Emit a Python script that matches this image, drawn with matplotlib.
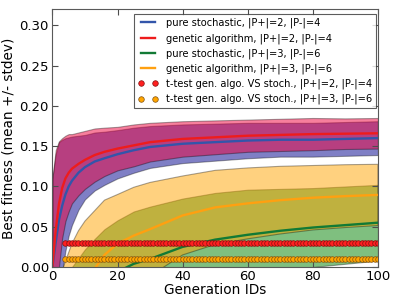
import numpy as np
import matplotlib
matplotlib.use("Agg")
import matplotlib.pyplot as plt

# generation ids at which the curves were sampled
gens = [0, 1, 2, 3, 4, 5, 6, 8, 10, 13, 16, 20, 25, 30, 40, 50, 60, 70, 80, 90, 100]

# pure stochastic, |P+|=2, |P-|=4
stoch24_mean = [0.0, 0.03, 0.058, 0.076, 0.09, 0.1, 0.107, 0.117, 0.124, 0.131, 0.135,
                0.140, 0.145, 0.149, 0.153, 0.155, 0.157, 0.158, 0.158, 0.159, 0.160]
stoch24_std = [0.11, 0.11, 0.097, 0.082, 0.07, 0.061, 0.055, 0.046, 0.040, 0.036, 0.033,
               0.030, 0.028, 0.026, 0.024, 0.023, 0.022, 0.021, 0.021, 0.021, 0.021]

# genetic algorithm, |P+|=2, |P-|=4
gen24_mean = [0.0, 0.045, 0.078, 0.098, 0.11, 0.117, 0.122, 0.128, 0.133, 0.139, 0.143,
              0.147, 0.151, 0.155, 0.159, 0.161, 0.163, 0.164, 0.165, 0.1655, 0.166]
gen24_std = [0.11, 0.1, 0.078, 0.062, 0.053, 0.048, 0.043, 0.039, 0.036, 0.033, 0.030,
             0.027, 0.026, 0.024, 0.022, 0.021, 0.020, 0.020, 0.020, 0.019, 0.019]

# pure stochastic, |P+|=3, |P-|=6
stoch36_mean = [-0.11, -0.10, -0.09, -0.08, -0.072, -0.066, -0.06, -0.05, -0.04, -0.028, -0.017,
                -0.006, 0.004, 0.010, 0.025, 0.034, 0.040, 0.045, 0.049, 0.052, 0.055]
stoch36_std = [0.055, 0.056, 0.057, 0.058, 0.059, 0.06, 0.06, 0.061, 0.062, 0.063, 0.064,
               0.064, 0.065, 0.065, 0.06, 0.058, 0.056, 0.052, 0.049, 0.048, 0.047]

# genetic algorithm, |P+|=3, |P-|=6
gen36_mean = [-0.16, -0.13, -0.11, -0.09, -0.075, -0.062, -0.05, -0.033, -0.02, -0.002, 0.015,
              0.029, 0.039, 0.047, 0.064, 0.074, 0.079, 0.083, 0.086, 0.088, 0.0895]
gen36_std = [0.09, 0.088, 0.086, 0.085, 0.082, 0.08, 0.079, 0.078, 0.077, 0.072, 0.068,
             0.061, 0.06, 0.058, 0.049, 0.046, 0.044, 0.042, 0.040, 0.039, 0.038]

# generations where the t-test says the difference is significant
ttest_gens = list(range(4, 101))
ttest24_level = 0.03
ttest36_level = 0.01

labels = ["pure stochastic, |P+|=2, |P-|=4",
          "genetic algorithm, |P+|=2, |P-|=4",
          "pure stochastic, |P+|=3, |P-|=6",
          "genetic algorithm, |P+|=3, |P-|=6",
          "t-test gen. algo. VS stoch., |P+|=2, |P-|=4",
          "t-test gen. algo. VS stoch., |P+|=3, |P-|=6"]

plt.rcParams["font.family"] = "DejaVu Sans"
plt.rcParams["xtick.direction"] = "in"
plt.rcParams["ytick.direction"] = "in"
plt.rcParams["xtick.top"] = True
plt.rcParams["ytick.right"] = True

fig = plt.figure(figsize=(3.97, 2.98), dpi=100)
ax = fig.add_axes([0.132, 0.104, 0.820, 0.865])

series = [
    (stoch24_mean, stoch24_std, "#00008c", "#3355aa"),
    (gen24_mean, gen24_std, "#f0003c", "#ee1c1c"),
    (stoch36_mean, stoch36_std, "#008000", "#127a35"),
    (gen36_mean, gen36_std, "#ffa500", "#ffa010"),
]

x = np.array(gens)
for mean, std, fill, _ in series:
    m = np.array(mean)
    s = np.array(std)
    ax.fill_between(x, m - s, m + s, facecolor=matplotlib.colors.to_rgba(fill, 0.5),
                    edgecolor=(0, 0, 0, 0.35), linewidth=0.8)

for (mean, std, _, line), lab in zip(series, labels[:4]):
    ax.plot(x, mean, color=line, lw=1.7, label=lab)

ax.plot(ttest_gens, [ttest24_level] * len(ttest_gens), ls="none", marker="o",
        ms=4.0, mfc="#ff2020", mec="#801010", mew=0.5, label=labels[4])
ax.plot(ttest_gens, [ttest36_level] * len(ttest_gens), ls="none", marker="o",
        ms=4.0, mfc="#ffa500", mec="#805010", mew=0.5, label=labels[5])

ax.set_xlim(0, 100)
ax.set_ylim(0, 0.32)
ax.set_yticks([0.0, 0.05, 0.10, 0.15, 0.20, 0.25, 0.30])
ax.set_xticks([0, 20, 40, 60, 80, 100])
ax.tick_params(labelsize=9.5, length=4, color="0.3", pad=2.5)
for sp in ax.spines.values():
    sp.set_color("0.35")

ax.set_xlabel("Generation IDs", fontsize=9.8, labelpad=0)
ax.set_ylabel("Best fitness (mean +/- stdev)", fontsize=9.8, labelpad=3)

leg = ax.legend(loc="upper right", bbox_to_anchor=(0.993, 0.982), borderaxespad=0,
                fontsize=7.1, numpoints=2, fancybox=False, handlelength=2.0,
                labelspacing=0.48, borderpad=0.4, handletextpad=0.8)
leg.get_frame().set_edgecolor("0.2")
leg.get_frame().set_linewidth(0.8)

fig.savefig("out.png", dpi=100)
